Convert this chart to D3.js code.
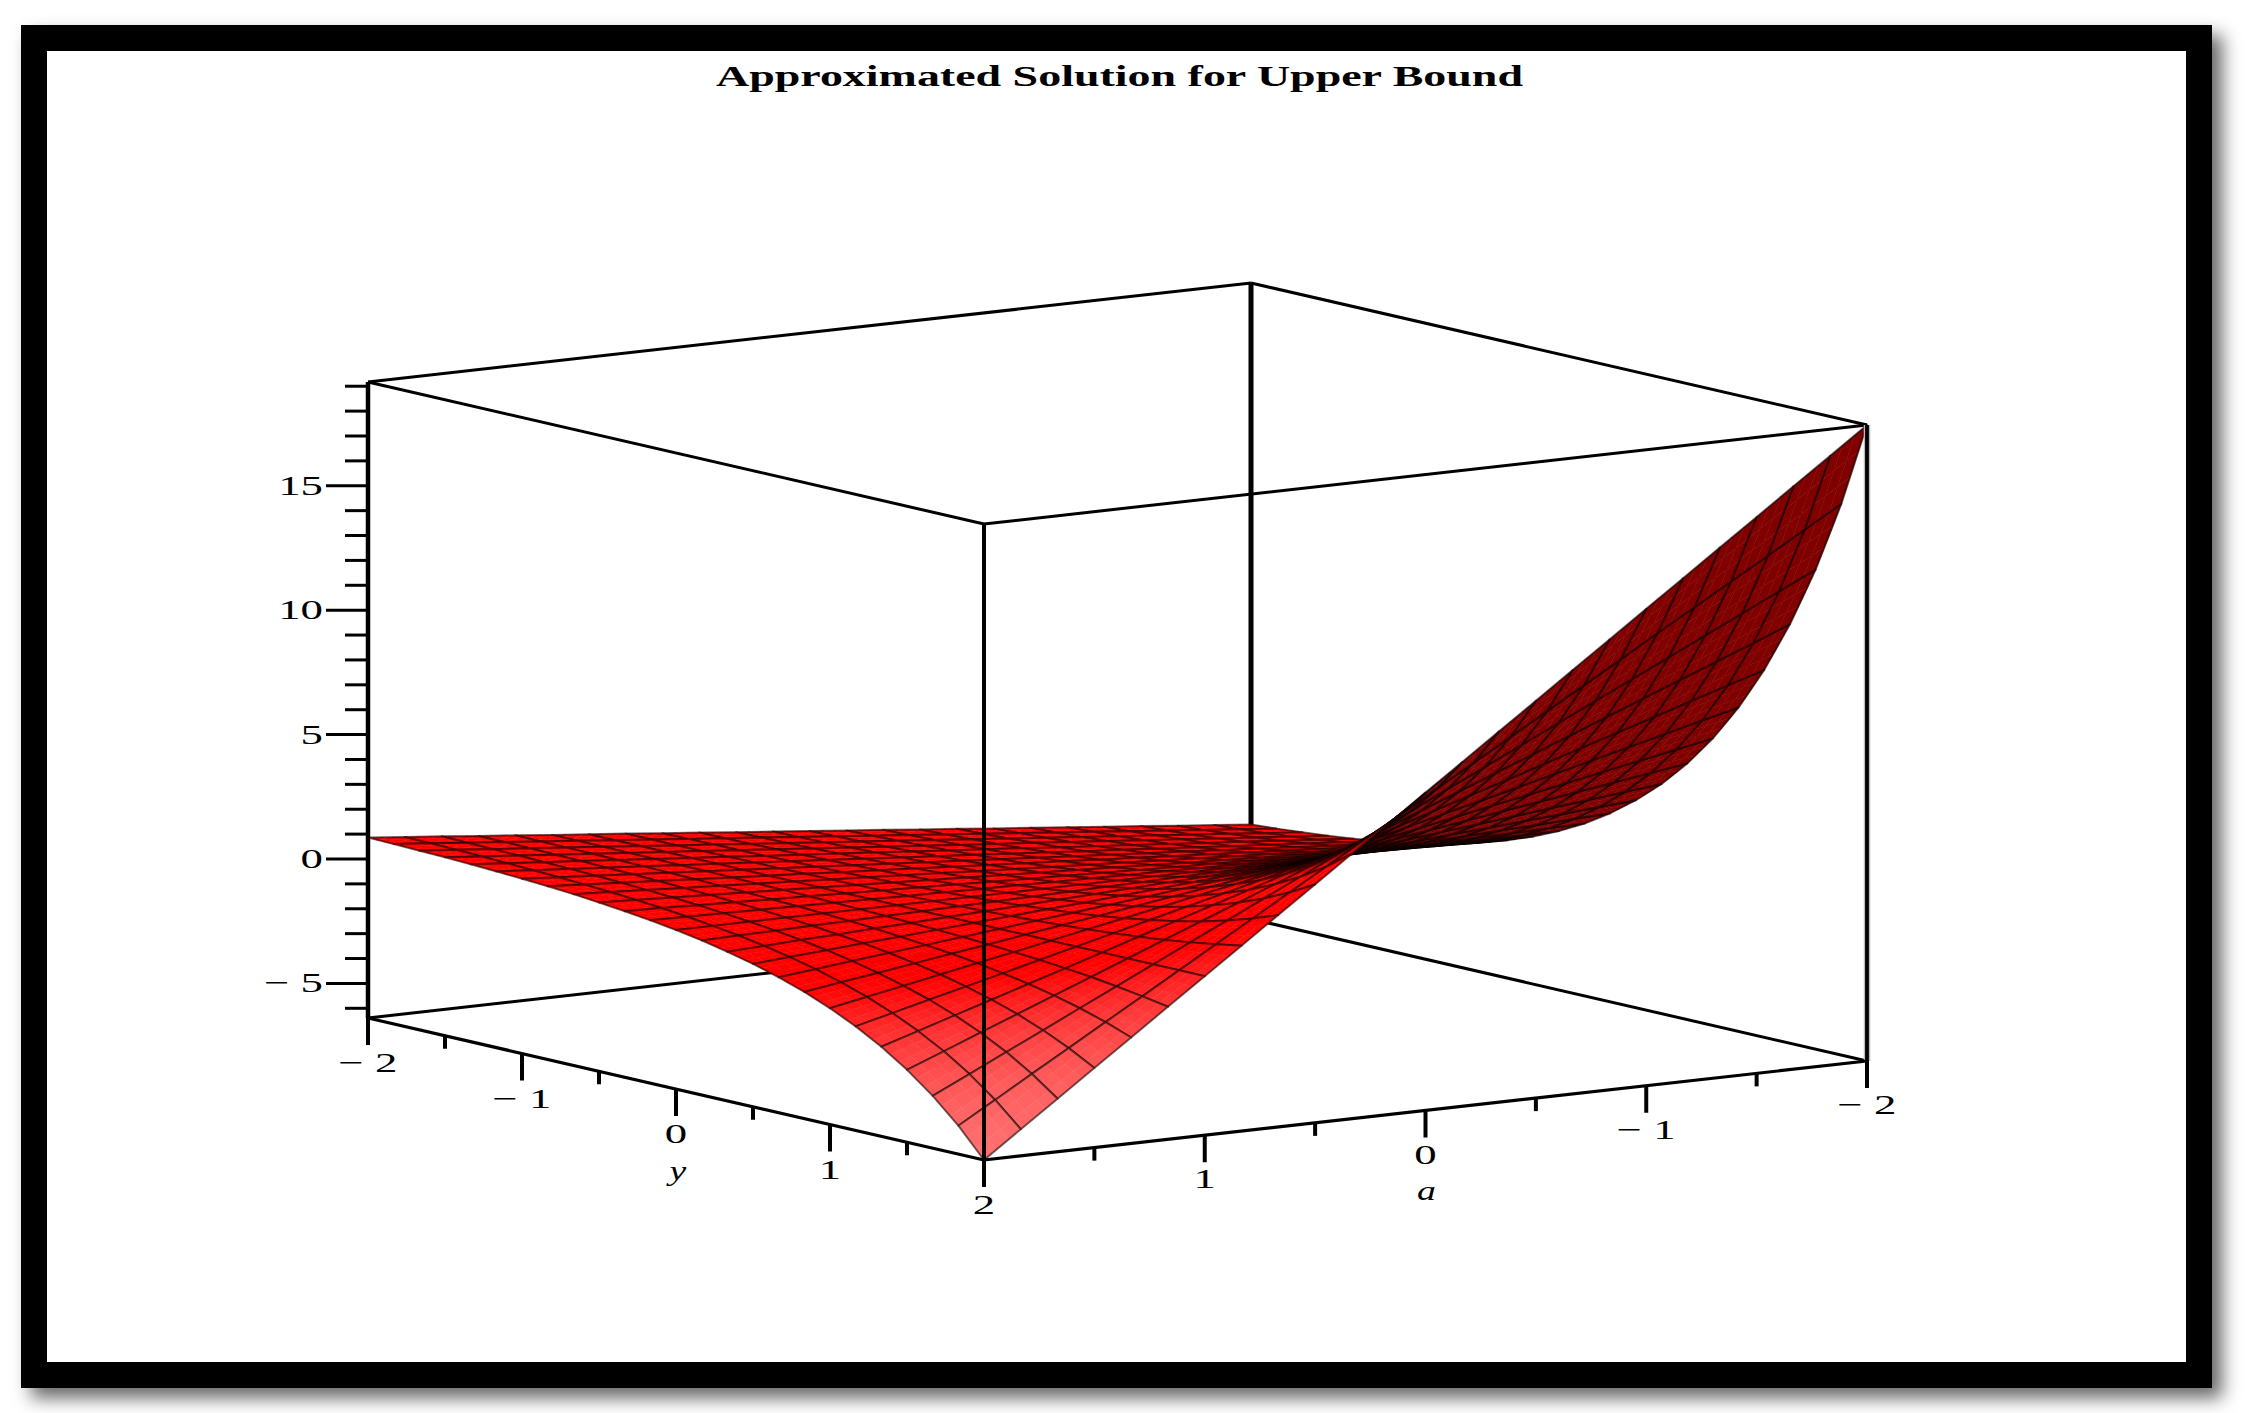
<!DOCTYPE html>
<html><head><meta charset="utf-8">
<script src="https://cdn.jsdelivr.net/npm/d3@7"></script>
<style>html,body{margin:0;padding:0;background:#fff;overflow:hidden}svg{display:block}text{font-family:"Liberation Serif",serif;fill:#000}</style>
</head><body><svg id="c" width="2245" height="1413"></svg>
<script>
const chartTitle = "Approximated Solution for Upper Bound";
const yAxisLabel = "y";
const aAxisLabel = "a";
const zMajorTicks = [15, 10, 5, 0, -5];
const zMinorTicks = [19, 18, 17, 16, 14, 13, 12, 11, 9, 8, 7, 6, 4, 3, 2, 1, -1, -2, -3, -4, -6];
const groundMajorTicks = [-2, -1, 0, 1, 2];
const groundMinorTicks = [-1.5, -0.5, 0.5, 1.5];
const zRange = [-6.39, 19.17];
// one entry per mesh line: 25 y lines (rows) by 25 a lines (columns)
const yGrid = [-2,-1.8333,-1.6667,-1.5,-1.3333,-1.1667,-1,-0.8333,-0.6667,-0.5,-0.3333,-0.1667,0,0.1667,0.3333,0.5,0.6667,0.8333,1,1.1667,1.3333,1.5,1.6667,1.8333,2];
const aGrid = [2,1.8333,1.6667,1.5,1.3333,1.1667,1,0.8333,0.6667,0.5,0.3333,0.1667,0,-0.1667,-0.3333,-0.5,-0.6667,-0.8333,-1,-1.1667,-1.3333,-1.5,-1.6667,-1.8333,-2];
const surfaceZ = [
[.86,.72,.58,.43,.29,.14,0,-.14,-.29,-.43,-.58,-.72,-.86,-1.01,-1.15,-1.30,-1.44,-1.59,-1.73,-1.87,-2.02,-2.16,-2.31,-2.45,-2.59],
[.84,.70,.56,.42,.28,.14,0,-.14,-.28,-.42,-.56,-.70,-.84,-.98,-1.12,-1.26,-1.40,-1.54,-1.68,-1.82,-1.96,-2.10,-2.24,-2.38,-2.52],
[.81,.68,.54,.41,.27,.14,0,-.14,-.27,-.41,-.54,-.68,-.81,-.95,-1.08,-1.22,-1.35,-1.49,-1.62,-1.76,-1.89,-2.03,-2.16,-2.30,-2.43],
[.78,.65,.52,.39,.26,.13,0,-.13,-.26,-.39,-.52,-.65,-.78,-.91,-1.04,-1.17,-1.29,-1.42,-1.55,-1.68,-1.81,-1.94,-2.07,-2.20,-2.33],
[.74,.61,.49,.37,.25,.12,0,-.12,-.25,-.37,-.49,-.61,-.74,-.86,-.98,-1.10,-1.23,-1.35,-1.47,-1.60,-1.72,-1.84,-1.96,-2.09,-2.21],
[.69,.57,.46,.34,.23,.11,0,-.11,-.23,-.34,-.46,-.57,-.69,-.80,-.92,-1.03,-1.15,-1.26,-1.38,-1.49,-1.61,-1.72,-1.84,-1.95,-2.07],
[.63,.53,.42,.32,.21,.11,0,-.11,-.21,-.32,-.42,-.53,-.63,-.74,-.84,-.95,-1.05,-1.16,-1.26,-1.37,-1.47,-1.58,-1.69,-1.79,-1.90],
[.57,.47,.38,.28,.19,.09,0,-.09,-.19,-.28,-.38,-.47,-.57,-.66,-.75,-.85,-.94,-1.04,-1.13,-1.22,-1.32,-1.41,-1.51,-1.60,-1.70],
[.49,.41,.32,.24,.16,.08,0,-.08,-.16,-.24,-.32,-.41,-.49,-.57,-.65,-.73,-.81,-.89,-.97,-1.05,-1.14,-1.22,-1.30,-1.38,-1.46],
[.39,.33,.26,.20,.13,.07,0,-.07,-.13,-.20,-.26,-.33,-.39,-.46,-.52,-.59,-.66,-.72,-.79,-.85,-.92,-.98,-1.05,-1.11,-1.18],
[.28,.24,.19,.14,.09,.05,0,-.05,-.09,-.14,-.19,-.24,-.28,-.33,-.38,-.43,-.47,-.52,-.57,-.61,-.66,-.71,-.76,-.80,-.85],
[.15,.13,.10,.08,.05,.03,0,-.03,-.05,-.08,-.10,-.13,-.15,-.18,-.20,-.23,-.26,-.28,-.31,-.33,-.36,-.38,-.41,-.43,-.46],
[0,0,0,0,0,0,0,0,0,0,0,0,0,0,0,0,0,0,0,0,0,0,0,0,0],
[-.18,-.15,-.12,-.09,-.06,-.03,0,.03,.06,.09,.12,.15,.18,.21,.24,.27,.30,.33,.36,.39,.42,.45,.48,.51,.54],
[-.40,-.33,-.26,-.20,-.13,-.07,0,.07,.13,.20,.26,.33,.40,.46,.53,.59,.66,.73,.79,.86,.92,.99,1.05,1.12,1.19],
[-.65,-.54,-.43,-.32,-.22,-.11,0,.11,.22,.32,.43,.54,.65,.76,.86,.97,1.08,1.19,1.30,1.41,1.51,1.62,1.73,1.84,1.95],
[-.95,-.79,-.63,-.47,-.32,-.16,0,.16,.32,.47,.63,.79,.95,1.11,1.26,1.42,1.58,1.74,1.90,2.05,2.21,2.37,2.53,2.69,2.84],
[-1.30,-1.08,-.87,-.65,-.43,-.22,0,.22,.43,.65,.87,1.08,1.30,1.52,1.73,1.95,2.17,2.39,2.60,2.82,3.04,3.25,3.47,3.69,3.90],
[-1.72,-1.43,-1.15,-.86,-.57,-.29,0,.29,.57,.86,1.15,1.43,1.72,2.00,2.29,2.58,2.86,3.15,3.44,3.72,4.01,4.30,4.58,4.87,5.15],
[-2.21,-1.84,-1.47,-1.11,-.74,-.37,0,.37,.74,1.11,1.47,1.84,2.21,2.58,2.95,3.32,3.69,4.05,4.42,4.79,5.16,5.53,5.90,6.27,6.63],
[-2.79,-2.33,-1.86,-1.40,-.93,-.47,0,.47,.93,1.40,1.86,2.33,2.79,3.26,3.72,4.19,4.66,5.12,5.59,6.05,6.52,6.98,7.45,7.92,8.38],
[-3.48,-2.90,-2.32,-1.74,-1.16,-.58,0,.58,1.16,1.74,2.32,2.90,3.48,4.06,4.64,5.22,5.80,6.38,6.96,7.54,8.12,8.70,9.28,9.86,10.45],
[-4.29,-3.58,-2.86,-2.15,-1.43,-.72,0,.72,1.43,2.15,2.86,3.58,4.29,5.01,5.73,6.44,7.16,7.87,8.59,9.30,10.02,10.74,11.45,12.17,12.88],
[-5.25,-4.38,-3.50,-2.63,-1.75,-.88,0,.88,1.75,2.63,3.50,4.38,5.25,6.13,7.01,7.88,8.76,9.63,10.51,11.39,12.26,13.14,14.01,14.89,15.76],
[-6.39,-5.32,-4.26,-3.19,-2.13,-1.06,0,1.06,2.13,3.19,4.26,5.32,6.39,7.45,8.52,9.58,10.65,11.71,12.78,13.84,14.91,15.97,17.04,18.10,19.17]
];

const svg = d3.select("#c");

// Scales for the oblique view: each data axis moves a point along its own screen direction.
const originX = 368, originY = 1018;
const yToDx = d3.scaleLinear().domain([-2, 2]).range([0, 616]);
const yToDy = d3.scaleLinear().domain([-2, 2]).range([0, 142]);
const aToDx = d3.scaleLinear().domain([2, -2]).range([0, 883]);
const aToDy = d3.scaleLinear().domain([2, -2]).range([0, -99]);
const zToDy = d3.scaleLinear().domain(zRange).range([0, -636]);
const project = (y, a, z) => [originX + yToDx(y) + aToDx(a), originY + yToDy(y) + aToDy(a) + zToDy(z)];
const line = d3.line();

// Frame with drop shadow
const defs = svg.append("defs");
const flt = defs.append("filter").attr("id", "sh").attr("filterUnits", "userSpaceOnUse")
  .attr("x", 0).attr("y", 0).attr("width", 2245).attr("height", 1413);
flt.append("feDropShadow").attr("dx", 10).attr("dy", 10).attr("stdDeviation", 9)
  .attr("flood-color", "#000").attr("flood-opacity", 0.6);
svg.append("rect").attr("x", 21).attr("y", 25).attr("width", 2191).attr("height", 1363).attr("fill", "#000").attr("filter", "url(#sh)");
svg.append("rect").attr("x", 47).attr("y", 51).attr("width", 2139).attr("height", 1311).attr("fill", "#fff");

// Title
svg.append("text").attr("x", 716).attr("y", 86).attr("font-size", 29).attr("font-weight", "bold")
  .attr("textLength", 807).attr("lengthAdjust", "spacingAndGlyphs").text(chartTitle);

const [zLo, zHi] = zRange;
const seg = (p, q, w, col) => svg.append("path").attr("d", line([p, q])).attr("fill", "none")
  .attr("stroke", col || "#000").attr("stroke-width", w);

// Box edges behind the surface
seg(project(-2, -2, zLo), project(-2, -2, zHi), 5);
seg(project(-2, 2, zLo), project(-2, -2, zLo), 3);
seg(project(-2, -2, zLo), project(2, -2, zLo), 3);
seg(project(-2, 2, zHi), project(-2, -2, zHi), 3);
seg(project(-2, -2, zHi), project(2, -2, zHi), 3);
seg(project(-2, 2, zHi), project(2, 2, zHi), 3);
seg(project(2, 2, zHi), project(2, -2, zHi), 3);

// Shading of each mesh vertex, taken from the local slope of the table
const nY = yGrid.length, nA = aGrid.length;
const clamp = (v, lo, hi) => Math.max(lo, Math.min(hi, v));
const zSpan = zHi - zLo;
const view = [0.78, -0.54, 0.26];
function shade(i, j) {
  const i0 = Math.max(0, i - 1), i1 = Math.min(nY - 1, i + 1);
  const j0 = Math.max(0, j - 1), j1 = Math.min(nA - 1, j + 1);
  const hu = (surfaceZ[i1][j] - surfaceZ[i0][j]) / zSpan * (nY - 1) / (i1 - i0);
  const hw = (surfaceZ[i][j1] - surfaceZ[i][j0]) / zSpan * (nA - 1) / (j1 - j0);
  const len = Math.hypot(hu, hw, 1);
  const n = [-hu / len, -hw / len, 1 / len];
  const f = n[0] * view[0] + n[1] * view[1] + n[2] * view[2];
  if (f < 0) return [128 * clamp(-f / 0.1, 0.15, 1), 0, 0];
  const r = 255 * clamp(f / 0.09, 0.15, 1);
  const s = (n[0] - n[1]) * 0.707;
  const pink = 115 * clamp((s - 0.35) / 0.48, 0, 1);
  return [r, pink, pink];
}
const colours = yGrid.map((_, i) => aGrid.map((_, j) => shade(i, j)));
const points = yGrid.map((y, i) => aGrid.map((a, j) => project(y, a, surfaceZ[i][j])));

// Painter's order across the mesh cells
const cells = [];
for (let i = 0; i < nY - 1; i++) for (let j = 0; j < nA - 1; j++) {
  const zMean = (surfaceZ[i][j] + surfaceZ[i + 1][j] + surfaceZ[i][j + 1] + surfaceZ[i + 1][j + 1]) / 4;
  const depth = view[0] * (i + 0.5) / (nY - 1) + view[1] * (j + 0.5) / (nA - 1) + view[2] * (zMean - zLo) / zSpan;
  cells.push({ i, j, depth });
}
cells.sort((p, q) => d3.ascending(p.depth, q.depth));

const mix = (a, b, t) => a.map((v, k) => v + (b[k] - v) * t);
const bilinear = (c, s, t) => mix(mix(c[0], c[1], s), mix(c[2], c[3], s), t);
const SUB = 3;

// Rounded outline of the far edge (a = -2), drawn under the mesh through the same table values
const farEdge = points.slice(14).map(r => r[nA - 1]);
svg.append("path")
  .attr("d", d3.line().curve(d3.curveCatmullRom.alpha(0.5))(farEdge) + line(farEdge.slice().reverse()).replace("M", "L") + "Z")
  .attr("fill", "#800000").attr("fill-rule", "evenodd").attr("stroke", "none");

const surface = svg.append("g");
cells.forEach(({ i, j }) => {
  const P = [points[i][j], points[i][j + 1], points[i + 1][j], points[i + 1][j + 1]];
  const C = [colours[i][j], colours[i][j + 1], colours[i + 1][j], colours[i + 1][j + 1]];
  const g = surface.append("g");
  const parts = [];
  for (let a = 0; a < SUB; a++) for (let b = 0; b < SUB; b++) parts.push({ a, b });
  g.selectAll("path").data(parts).join("path")
    .attr("d", ({ a, b }) => line([
      bilinear(P, a / SUB, b / SUB), bilinear(P, (a + 1) / SUB, b / SUB),
      bilinear(P, (a + 1) / SUB, (b + 1) / SUB), bilinear(P, a / SUB, (b + 1) / SUB)]) + "Z")
    .each(function ({ a, b }) {
      const c = bilinear(C, (a + 0.5) / SUB, (b + 0.5) / SUB);
      const col = `rgb(${Math.round(c[0])},${Math.round(c[1])},${Math.round(c[2])})`;
      d3.select(this).attr("fill", col).attr("stroke", col).attr("stroke-width", 0.5);
    });
  g.append("path").attr("d", line([P[0], P[1], P[3], P[2]]) + "Z").attr("fill", "none")
    .attr("stroke", "#000").attr("stroke-opacity", 0.55).attr("stroke-width", 2).attr("stroke-linejoin", "round");
});

// Box edges in front of the surface
seg(project(2, 2, zLo), project(2, 2, zHi), 4);
seg(project(-2, 2, zLo), project(-2, 2, zHi), 4.5);
seg(project(2, -2, zLo), project(2, -2, zHi), 6.5, "#bbb");
seg(project(2, -2, zLo), project(2, -2, zHi), 3.8);
seg(project(-2, 2, zLo), project(2, 2, zLo), 3.2);
seg(project(2, 2, zLo), project(2, -2, zLo), 3.2);

// z axis ticks
const zAt = z => project(-2, 2, z);
zMinorTicks.forEach(z => { const [x, y] = zAt(z); seg([x - 23, y], [x, y], 3); });
zMajorTicks.forEach(z => { const [x, y] = zAt(z); seg([x - 42, y], [x, y], 3); });
const label = (x, y, s, anchor, italic) => svg.append("text")
  .attr("transform", `translate(${x},${y}) scale(${italic ? 1.35 : 1.6},1)`)
  .attr("text-anchor", anchor).attr("font-size", 28)
  .attr("font-style", italic ? "italic" : "normal").text(s);
const fmt = v => (v < 0 ? "\u2212 " + (-v) : String(v));
zMajorTicks.forEach(z => { const [x, y] = zAt(z); label(x - 45, y + 9, fmt(z), "end"); });

// y and a axis ticks
groundMajorTicks.forEach(v => {
  const [x, y] = project(v, 2, zLo);
  seg([x, y], [x, y + 27], 4);
  label(x, y + 54, fmt(v), "middle");
  if (v !== 2) {
    const [x2, y2] = project(2, v, zLo);
    seg([x2, y2], [x2, y2 + 27], 4);
    label(x2, y2 + 53, fmt(v), "middle");
  }
});
groundMinorTicks.forEach(v => {
  const [x, y] = project(v, 2, zLo);
  seg([x, y], [x, y + 13], 4);
  const [x2, y2] = project(2, v, zLo);
  seg([x2, y2], [x2, y2 + 13], 4);
});
{
  const [x, y] = project(0, 2, zLo);
  label(x + 2, y + 91, yAxisLabel, "middle", true);
  const [x2, y2] = project(2, 0, zLo);
  label(x2 + 1, y2 + 89, aAxisLabel, "middle", true);
}
</script></body></html>
